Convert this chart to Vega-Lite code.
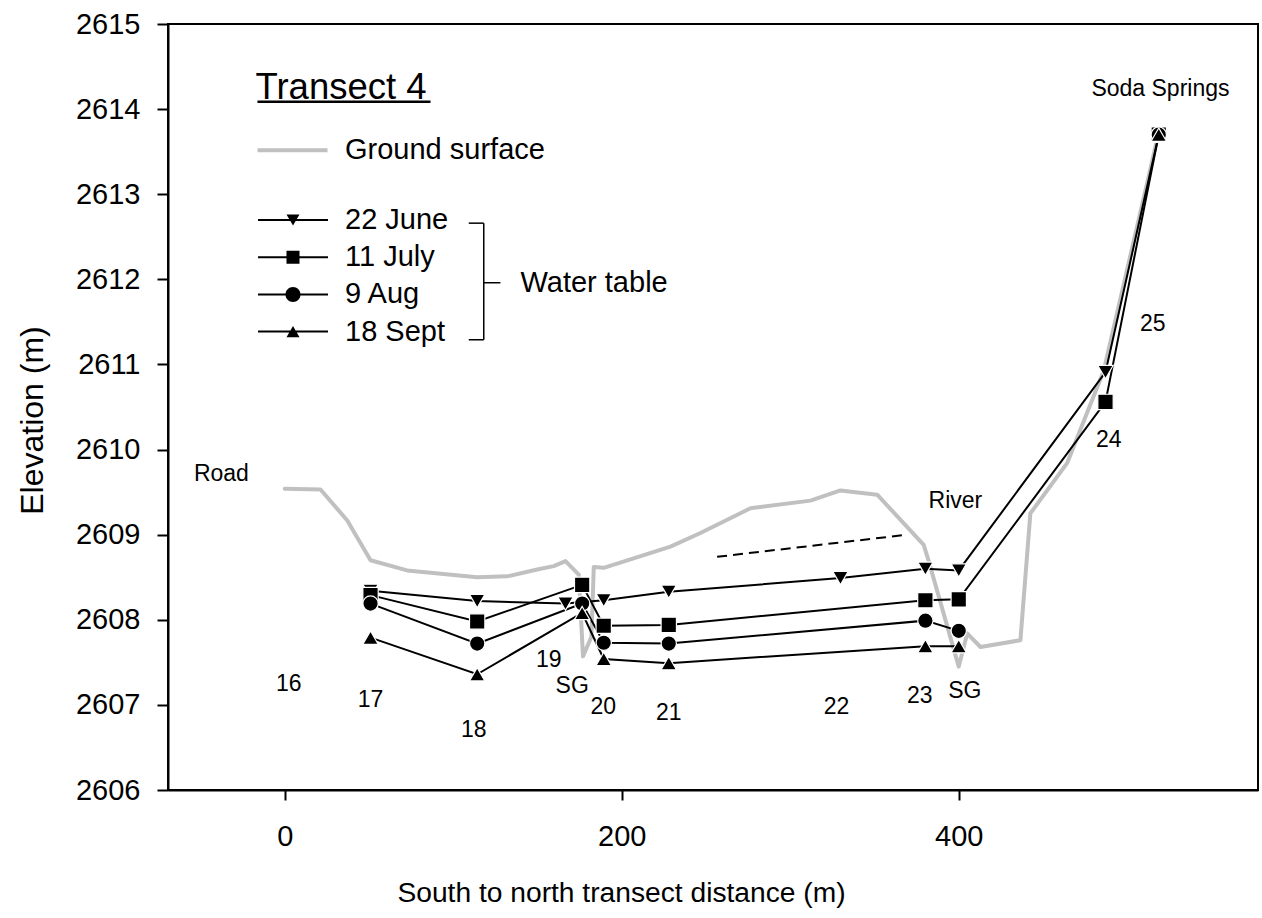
{
  "$schema": "https://vega.github.io/schema/vega-lite/v6.json",
  "width": 1090,
  "height": 766,
  "autosize": {"type": "none"},
  "padding": {"left": 168, "top": 24, "right": 4, "bottom": 128},
  "background": "white",
  "config": {
    "font": "Liberation Sans",
    "view": {"stroke": "black", "strokeWidth": 2},
    "axis": {"labelColor": "black", "titleColor": "black", "tickColor": "black", "domainColor": "black", "labelFont": "Liberation Sans", "titleFont": "Liberation Sans", "titleFontWeight": "normal"},
    "legend": {"labelColor": "black", "titleColor": "black", "labelFont": "Liberation Sans", "titleFont": "Liberation Sans", "labelLimit": 0}
  },
  "datasets": {
    "ground": [
      {"distance": 0, "elevation": 2609.54},
      {"distance": 21.2, "elevation": 2609.53},
      {"distance": 37.0, "elevation": 2609.17},
      {"distance": 50.9, "elevation": 2608.70},
      {"distance": 72.6, "elevation": 2608.58},
      {"distance": 114.2, "elevation": 2608.50},
      {"distance": 132.0, "elevation": 2608.51},
      {"distance": 149.8, "elevation": 2608.59},
      {"distance": 159.6, "elevation": 2608.63},
      {"distance": 166.6, "elevation": 2608.69},
      {"distance": 174.5, "elevation": 2608.53},
      {"distance": 177.0, "elevation": 2607.57},
      {"distance": 182.0, "elevation": 2607.80},
      {"distance": 183.4, "elevation": 2608.62},
      {"distance": 189.3, "elevation": 2608.61},
      {"distance": 228.9, "elevation": 2608.86},
      {"distance": 246.7, "elevation": 2609.02},
      {"distance": 276.4, "elevation": 2609.31},
      {"distance": 312.0, "elevation": 2609.40},
      {"distance": 329.8, "elevation": 2609.52},
      {"distance": 351.6, "elevation": 2609.47},
      {"distance": 379.2, "elevation": 2608.88},
      {"distance": 382.0, "elevation": 2608.70},
      {"distance": 400.0, "elevation": 2607.45},
      {"distance": 405.0, "elevation": 2607.84},
      {"distance": 412.9, "elevation": 2607.68},
      {"distance": 436.6, "elevation": 2607.76},
      {"distance": 442.5, "elevation": 2609.25},
      {"distance": 464.3, "elevation": 2609.84},
      {"distance": 486.1, "elevation": 2610.93},
      {"distance": 511.8, "elevation": 2613.13},
      {"distance": 517.7, "elevation": 2613.64}
    ],
    "wells": [
      {"series": "22 June", "well": "17", "distance": 50.9, "elevation": 2608.34, "part": 1},
      {"series": "22 June", "well": "18", "distance": 114.2, "elevation": 2608.22, "part": 1},
      {"series": "22 June", "well": "19", "distance": 166.6, "elevation": 2608.19, "part": 1},
      {"series": "22 June", "well": "20", "distance": 189.3, "elevation": 2608.23, "part": 1},
      {"series": "22 June", "well": "21", "distance": 227.9, "elevation": 2608.33, "part": 1},
      {"series": "22 June", "well": "22", "distance": 329.8, "elevation": 2608.49, "part": 1},
      {"series": "22 June", "well": "23", "distance": 380.2, "elevation": 2608.60, "part": 1},
      {"series": "22 June", "well": "SG", "distance": 400.0, "elevation": 2608.58, "part": 1},
      {"series": "22 June", "well": "24", "distance": 487.1, "elevation": 2610.91, "part": 1},
      {"series": "22 June", "well": "Soda Springs", "distance": 518.7, "elevation": 2613.70, "part": 1},
      {"series": "11 July", "well": "17", "distance": 50.9, "elevation": 2608.29, "part": 1},
      {"series": "11 July", "well": "18", "distance": 114.2, "elevation": 2607.98, "part": 1},
      {"series": "11 July", "well": "SG", "distance": 176.5, "elevation": 2608.41, "part": 1},
      {"series": "11 July", "well": "20", "distance": 189.3, "elevation": 2607.93, "part": 1},
      {"series": "11 July", "well": "21", "distance": 227.9, "elevation": 2607.94, "part": 1},
      {"series": "11 July", "well": "23", "distance": 380.2, "elevation": 2608.23, "part": 1},
      {"series": "11 July", "well": "SG", "distance": 400.0, "elevation": 2608.24, "part": 1},
      {"series": "11 July", "well": "24", "distance": 487.1, "elevation": 2610.56, "part": 1},
      {"series": "11 July", "well": "Soda Springs", "distance": 518.7, "elevation": 2613.70, "part": 1},
      {"series": "9 Aug", "well": "17", "distance": 50.9, "elevation": 2608.19, "part": 1},
      {"series": "9 Aug", "well": "18", "distance": 114.2, "elevation": 2607.72, "part": 1},
      {"series": "9 Aug", "well": "SG", "distance": 176.5, "elevation": 2608.19, "part": 1},
      {"series": "9 Aug", "well": "20", "distance": 189.3, "elevation": 2607.73, "part": 1},
      {"series": "9 Aug", "well": "21", "distance": 227.9, "elevation": 2607.72, "part": 1},
      {"series": "9 Aug", "well": "23", "distance": 380.2, "elevation": 2607.99, "part": 1},
      {"series": "9 Aug", "well": "SG", "distance": 400.0, "elevation": 2607.87, "part": 1},
      {"series": "9 Aug", "well": "Soda Springs", "distance": 518.7, "elevation": 2613.70, "part": 2},
      {"series": "18 Sept", "well": "17", "distance": 50.9, "elevation": 2607.79, "part": 1},
      {"series": "18 Sept", "well": "18", "distance": 114.2, "elevation": 2607.36, "part": 1},
      {"series": "18 Sept", "well": "SG", "distance": 176.5, "elevation": 2608.08, "part": 1},
      {"series": "18 Sept", "well": "20", "distance": 189.3, "elevation": 2607.54, "part": 1},
      {"series": "18 Sept", "well": "21", "distance": 227.9, "elevation": 2607.49, "part": 1},
      {"series": "18 Sept", "well": "23", "distance": 380.2, "elevation": 2607.69, "part": 1},
      {"series": "18 Sept", "well": "SG", "distance": 400.0, "elevation": 2607.69, "part": 1},
      {"series": "18 Sept", "well": "Soda Springs", "distance": 518.7, "elevation": 2613.70, "part": 2}
    ],
    "dash": [
      {"distance": 256.6, "elevation": 2608.74},
      {"distance": 369.4, "elevation": 2609.00}
    ],
    "labels": [
      {"label": "Road", "distance": -37.6, "elevation": 2609.71},
      {"label": "16", "distance": 2.4, "elevation": 2607.25},
      {"label": "17", "distance": 50.9, "elevation": 2607.06},
      {"label": "18", "distance": 112.2, "elevation": 2606.71},
      {"label": "19", "distance": 156.7, "elevation": 2607.53},
      {"label": "SG", "distance": 170.6, "elevation": 2607.22},
      {"label": "20", "distance": 189.0, "elevation": 2606.97},
      {"label": "21", "distance": 227.9, "elevation": 2606.90},
      {"label": "22", "distance": 327.4, "elevation": 2606.98},
      {"label": "23", "distance": 376.9, "elevation": 2607.10},
      {"label": "SG", "distance": 403.6, "elevation": 2607.16},
      {"label": "River", "distance": 398.0, "elevation": 2609.39},
      {"label": "24", "distance": 489.0, "elevation": 2610.11},
      {"label": "25", "distance": 515.1, "elevation": 2611.48},
      {"label": "Soda Springs", "distance": 519.7, "elevation": 2614.24}
    ],
    "bracket": [
      {"distance": 109.2, "distance2": 118.1, "elevation": 2612.66, "elevation2": 2612.66},
      {"distance": 118.1, "distance2": 118.1, "elevation": 2612.66, "elevation2": 2611.29},
      {"distance": 109.2, "distance2": 118.1, "elevation": 2611.29, "elevation2": 2611.29},
      {"distance": 118.1, "distance2": 128.0, "elevation": 2611.96, "elevation2": 2611.96}
    ],
    "underline": [
      {"distance": -16.2, "distance2": 86.5, "elevation": 2614.087, "elevation2": 2614.087}
    ],
    "bracketLabel": [
      {"label": "Water table", "distance": 139.9, "elevation": 2611.96}
    ]
  },
  "encoding": {
    "x": {
      "field": "distance", "type": "quantitative",
      "scale": {"domain": [-69.3, 577.6], "nice": false, "zero": false},
      "axis": {
        "title": "South to north transect distance (m)", "values": [0, 200, 400], "format": "d", "grid": false,
        "domainWidth": 2, "tickSize": 10, "tickWidth": 2, "labelFontSize": 29, "labelPadding": 22,
        "titleFontSize": 28.2, "titleX": 453, "titleY": 103, "titleBaseline": "middle"
      }
    },
    "y": {
      "field": "elevation", "type": "quantitative",
      "scale": {"domain": [2606, 2615], "nice": false, "zero": false},
      "axis": {
        "title": "Elevation (m)", "values": [2606, 2607, 2608, 2609, 2610, 2611, 2612, 2613, 2614, 2615], "format": "d", "grid": false,
        "domainWidth": 2, "tickSize": 11, "tickWidth": 2, "labelFontSize": 29, "labelPadding": 17,
        "titleFontSize": 32, "titleX": -136, "titleY": 396, "titleBaseline": "middle"
      }
    }
  },
  "layer": [
    {
      "data": {"name": "ground"},
      "mark": {"type": "line", "strokeWidth": 4, "strokeJoin": "round", "strokeCap": "round"},
      "encoding": {
        "color": {
          "datum": "Ground surface",
          "scale": {"domain": ["Ground surface"], "range": ["#c0c0c0"]},
          "legend": {
            "orient": "none", "legendX": 87.5, "legendY": 45.7, "padding": 0, "offset": 0,
            "title": "Transect 4", "titleFontSize": 36.5, "titleFontWeight": "normal", "titleAnchor": "start", "titleAlign": "left", "titlePadding": 7,
            "symbolType": "stroke", "symbolSize": 4900, "symbolStrokeWidth": 4, "labelFontSize": 29, "labelOffset": 15.5, "labelLimit": 0
          }
        }
      }
    },
    {
      "data": {"name": "dash"},
      "mark": {"type": "line", "color": "black", "strokeWidth": 2, "strokeDash": [10, 6]},
      "encoding": {}
    },
    {
      "data": {"name": "wells"},
      "mark": {"type": "line", "color": "black", "strokeWidth": 2},
      "encoding": {
        "detail": [{"field": "series", "type": "nominal"}, {"field": "part", "type": "nominal"}]
      }
    },
    {
      "data": {"name": "wells"},
      "mark": {"type": "point", "filled": true, "color": "black", "stroke": "white", "strokeWidth": 1.2, "opacity": 1, "size": 235},
      "encoding": {
        "shape": {
          "field": "series", "type": "nominal",
          "scale": {"domain": ["22 June", "11 July", "9 Aug", "18 Sept"], "range": ["triangle-down", "square", "circle", "triangle-up"]},
          "legend": null
        }
      }
    },
    {
      "data": {"name": "wells"},
      "mark": {"type": "point", "filled": true, "color": "black", "size": 0},
      "encoding": {
        "shape": {
          "field": "series", "type": "nominal",
          "scale": {"domain": ["22 June", "11 July", "9 Aug", "18 Sept"], "range": [
            "M-2.12,-0.06L2.12,-0.06L2.12,0.06L-2.12,0.06ZM-0.394,-0.34L0.394,-0.34L0,0.34Z",
            "M-2.12,-0.06L2.12,-0.06L2.12,0.06L-2.12,0.06ZM-0.394,-0.394L0.394,-0.394L0.394,0.394L-0.394,0.394Z",
            "M-2.12,-0.06L2.12,-0.06L2.12,0.06L-2.12,0.06ZM-0.455,0A0.455,0.455,0,1,1,0.455,0A0.455,0.455,0,1,1,-0.455,0Z",
            "M-2.12,-0.06L2.12,-0.06L2.12,0.06L-2.12,0.06ZM0,-0.34L0.394,0.34L-0.394,0.34Z"
          ]},
          "legend": {
            "orient": "none", "legendX": 107.5, "legendY": 178.5, "padding": 0, "offset": 0, "title": null,
            "symbolSize": 1089, "symbolFillColor": "black", "symbolOpacity": 1,
            "labelFontSize": 29, "labelOffset": 34.5, "rowPadding": 4.2, "labelLimit": 0
          }
        }
      }
    },
    {
      "data": {"name": "bracket"},
      "mark": {"type": "rule", "color": "black", "strokeWidth": 1.5},
      "encoding": {
        "x2": {"field": "distance2"},
        "y2": {"field": "elevation2"}
      }
    },
    {
      "data": {"name": "underline"},
      "mark": {"type": "rule", "color": "black", "strokeWidth": 2.5},
      "encoding": {
        "x2": {"field": "distance2"},
        "y2": {"field": "elevation2"}
      }
    },
    {
      "data": {"name": "labels"},
      "mark": {"type": "text", "font": "Liberation Sans", "fontSize": 23, "color": "black", "align": "center", "baseline": "middle"},
      "encoding": {"text": {"field": "label"}}
    },
    {
      "data": {"name": "bracketLabel"},
      "mark": {"type": "text", "font": "Liberation Sans", "fontSize": 29, "color": "black", "align": "left", "baseline": "middle"},
      "encoding": {"text": {"field": "label"}}
    }
  ],
  "resolve": {"scale": {"shape": "independent"}, "legend": {"shape": "independent"}}
}
